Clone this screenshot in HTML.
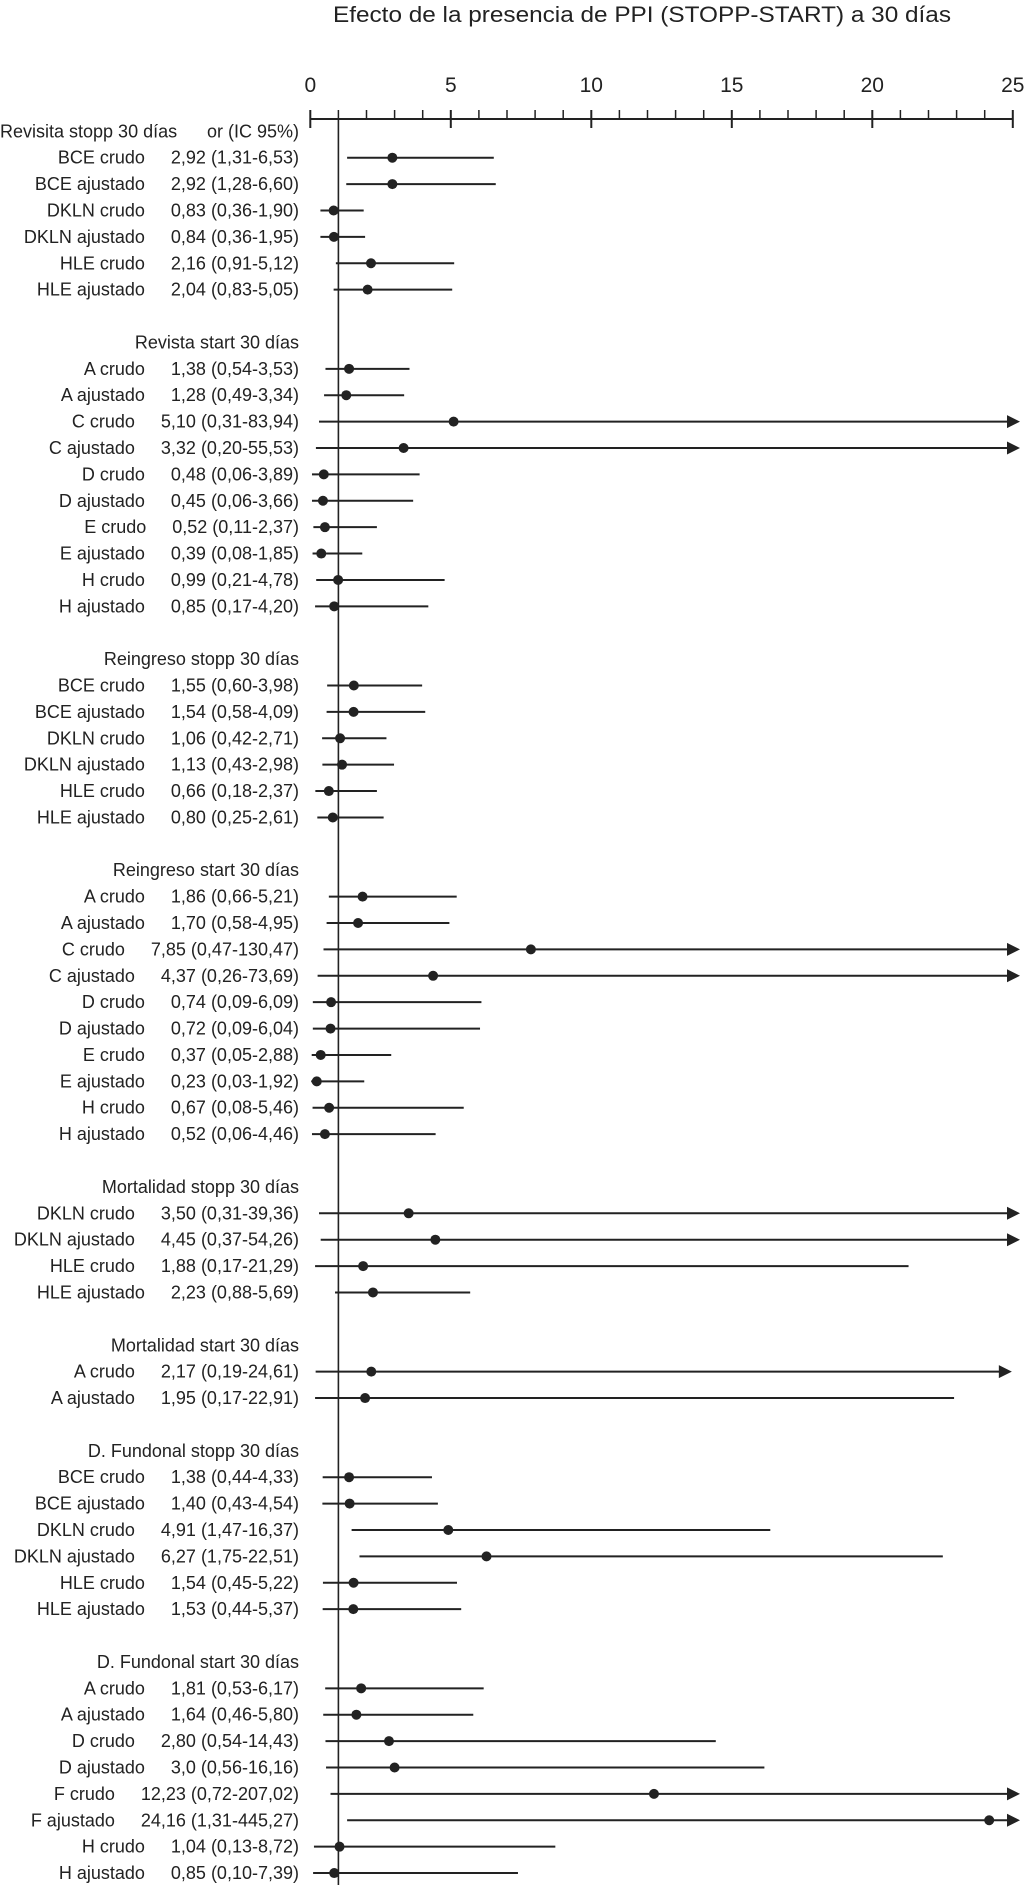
<!DOCTYPE html>
<html><head><meta charset="utf-8"><style>
html,body{margin:0;padding:0;background:#fff;}
svg{display:block;font-family:"Liberation Sans",Arial,sans-serif;fill:#222;}
</style></head><body>
<svg id="chart" width="1024" height="1885" viewBox="0 0 1024 1885" xmlns="http://www.w3.org/2000/svg">
<text x="642" y="22" text-anchor="middle" font-size="22" textLength="618" lengthAdjust="spacingAndGlyphs">Efecto de la presencia de PPI (STOPP-START) a 30 días</text>
<g id="axis"></g>
<g id="rows"></g>
</svg>
<script>
const headers=[
 {k:0,t:"Revisita stopp 30 días"},
 {k:8,t:"Revista start 30 días"},
 {k:20,t:"Reingreso stopp 30 días"},
 {k:28,t:"Reingreso start 30 días"},
 {k:40,t:"Mortalidad stopp 30 días"},
 {k:46,t:"Mortalidad start 30 días"},
 {k:50,t:"D. Fundonal stopp 30 días"},
 {k:58,t:"D. Fundonal start 30 días"}];
const rowNames=["BCE crudo","BCE ajustado","DKLN crudo","DKLN ajustado","HLE crudo","HLE ajustado",
 "A crudo","A ajustado","C crudo","C ajustado","D crudo","D ajustado","E crudo","E ajustado","H crudo","H ajustado",
 "BCE crudo","BCE ajustado","DKLN crudo","DKLN ajustado","HLE crudo","HLE ajustado",
 "A crudo","A ajustado","C crudo","C ajustado","D crudo","D ajustado","E crudo","E ajustado","H crudo","H ajustado",
 "DKLN crudo","DKLN ajustado","HLE crudo","HLE ajustado",
 "A crudo","A ajustado",
 "BCE crudo","BCE ajustado","DKLN crudo","DKLN ajustado","HLE crudo","HLE ajustado",
 "A crudo","A ajustado","D crudo","D ajustado","F crudo","F ajustado","H crudo","H ajustado"];
const orValues=[2.92,2.92,0.83,0.84,2.16,2.04, 1.38,1.28,5.10,3.32,0.48,0.45,0.52,0.39,0.99,0.85,
 1.55,1.54,1.06,1.13,0.66,0.80, 1.86,1.70,7.85,4.37,0.74,0.72,0.37,0.23,0.67,0.52,
 3.50,4.45,1.88,2.23, 2.17,1.95, 1.38,1.40,4.91,6.27,1.54,1.53, 1.81,1.64,2.80,3.0,12.23,24.16,1.04,0.85];
const lowValues=[1.31,1.28,0.36,0.36,0.91,0.83, 0.54,0.49,0.31,0.20,0.06,0.06,0.11,0.08,0.21,0.17,
 0.60,0.58,0.42,0.43,0.18,0.25, 0.66,0.58,0.47,0.26,0.09,0.09,0.05,0.03,0.08,0.06,
 0.31,0.37,0.17,0.88, 0.19,0.17, 0.44,0.43,1.47,1.75,0.45,0.44, 0.53,0.46,0.54,0.56,0.72,1.31,0.13,0.10];
const highValues=[6.53,6.60,1.90,1.95,5.12,5.05, 3.53,3.34,83.94,55.53,3.89,3.66,2.37,1.85,4.78,4.20,
 3.98,4.09,2.71,2.98,2.37,2.61, 5.21,4.95,130.47,73.69,6.09,6.04,2.88,1.92,5.46,4.46,
 39.36,54.26,21.29,5.69, 24.61,22.91, 4.33,4.54,16.37,22.51,5.22,5.37, 6.17,5.80,14.43,16.16,207.02,445.27,8.72,7.39];
const valueLabels=["2,92 (1,31-6,53)","2,92 (1,28-6,60)","0,83 (0,36-1,90)","0,84 (0,36-1,95)","2,16 (0,91-5,12)","2,04 (0,83-5,05)",
 "1,38 (0,54-3,53)","1,28 (0,49-3,34)","5,10 (0,31-83,94)","3,32 (0,20-55,53)","0,48 (0,06-3,89)","0,45 (0,06-3,66)","0,52 (0,11-2,37)","0,39 (0,08-1,85)","0,99 (0,21-4,78)","0,85 (0,17-4,20)",
 "1,55 (0,60-3,98)","1,54 (0,58-4,09)","1,06 (0,42-2,71)","1,13 (0,43-2,98)","0,66 (0,18-2,37)","0,80 (0,25-2,61)",
 "1,86 (0,66-5,21)","1,70 (0,58-4,95)","7,85 (0,47-130,47)","4,37 (0,26-73,69)","0,74 (0,09-6,09)","0,72 (0,09-6,04)","0,37 (0,05-2,88)","0,23 (0,03-1,92)","0,67 (0,08-5,46)","0,52 (0,06-4,46)",
 "3,50 (0,31-39,36)","4,45 (0,37-54,26)","1,88 (0,17-21,29)","2,23 (0,88-5,69)",
 "2,17 (0,19-24,61)","1,95 (0,17-22,91)",
 "1,38 (0,44-4,33)","1,40 (0,43-4,54)","4,91 (1,47-16,37)","6,27 (1,75-22,51)","1,54 (0,45-5,22)","1,53 (0,44-5,37)",
 "1,81 (0,53-6,17)","1,64 (0,46-5,80)","2,80 (0,54-14,43)","3,0 (0,56-16,16)","12,23 (0,72-207,02)","24,16 (1,31-445,27)","1,04 (0,13-8,72)","0,85 (0,10-7,39)"];
const tickLabels=["0","5","10","15","20","25"];
const rowK=[1,2,3,4,5,6, 9,10,11,12,13,14,15,16,17,18, 21,22,23,24,25,26, 29,30,31,32,33,34,35,36,37,38, 41,42,43,44, 47,48, 51,52,53,54,55,56, 59,60,61,62,63,64,65,66];

const NS="http://www.w3.org/2000/svg";
const X0=310.3, UNIT=28.1, AXY=119, Y1=157.7, STEP=26.39, FS=18;
const xs=v=>X0+v*UNIT;
const ys=k=>Y1+(k-1)*STEP;
function mk(tag,attrs,parent){const e=document.createElementNS(NS,tag);for(const a in attrs)e.setAttribute(a,attrs[a]);parent.appendChild(e);return e;}
const axis=document.getElementById('axis'), rows=document.getElementById('rows');

let l=mk('line',{x1:xs(0),x2:xs(25),y1:AXY,y2:AXY,stroke:'#222','stroke-width':2},axis);


for(let i=0;i<=25;i++){
  const major=i%5===0;
  const t=mk('line',{x1:xs(i),x2:xs(i),y1:110,y2:major?128:119,stroke:'#222','stroke-width':major?2:1.5},axis);
  
  
}
tickLabels.forEach((s,i)=>{
  const t=mk('text',{x:xs(i*5),y:92,'text-anchor':'middle','font-size':21},axis);
  t.textContent=s;
  
  
});
const rl=mk('line',{x1:xs(1),x2:xs(1),y1:AXY,y2:1885,stroke:'#222','stroke-width':1.6},axis);



headers.forEach((h,i)=>{
  const y=ys(h.k)+6;
  const t=mk('text',{x:i===0?0:299,y:y,'text-anchor':i===0?'start':'end','font-size':FS},rows);
  t.textContent=h.t;
  
  
  if(i===0){
    const o=mk('text',{x:299,y:y,'text-anchor':'end','font-size':FS},rows);
    o.textContent="or (IC 95%)";
    
    
  }
});
rowNames.forEach((n,i)=>{
  const y=ys(rowK[i]);
  const v=mk('text',{x:299,y:y+6,'text-anchor':'end','font-size':FS},rows);
  v.textContent=valueLabels[i];
  
  
  const w=v.getComputedTextLength();
  const nm=mk('text',{x:299-w-26,y:y+6,'text-anchor':'end','font-size':FS},rows);
  nm.textContent=n;
  
  
  const hi=highValues[i];
  const arrow=hi>24;
  const xe=hi>25?1020:(arrow?xs(hi)+10:xs(hi));
  const ln=mk('line',{x1:xs(lowValues[i]),x2:arrow?xe-10:xe,y1:y,y2:y,stroke:'#222','stroke-width':2},rows);
  
  
  if(arrow){
    const p=mk('polygon',{points:`${xe},${y} ${xe-13},${y-6.5} ${xe-13},${y+6.5}`,fill:'#222'},rows);
    
    
  }
  const c=mk('circle',{cx:xs(orValues[i]),cy:y,r:5,fill:'#222'},rows);
  
  
});
</script>
</body></html>
